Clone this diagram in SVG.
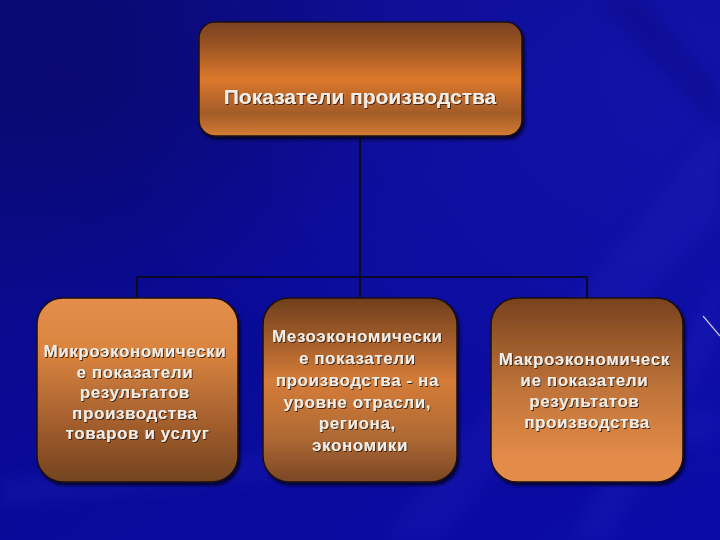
<svg xmlns="http://www.w3.org/2000/svg" width="720" height="540" viewBox="0 0 720 540">
  <defs>
    <linearGradient id="bg" x1="0" y1="0" x2="1" y2="1">
      <stop offset="0" stop-color="#0b0b7e"/>
      <stop offset="0.45" stop-color="#0a0a98"/>
      <stop offset="1" stop-color="#0b0ba8"/>
    </linearGradient>
    <radialGradient id="glow" cx="0.95" cy="0.15" r="0.8">
      <stop offset="0" stop-color="#2222c0" stop-opacity="0.35"/>
      <stop offset="1" stop-color="#2222c0" stop-opacity="0"/>
    </radialGradient>
    <radialGradient id="dark" cx="0.1" cy="0.15" r="0.45">
      <stop offset="0" stop-color="#06064a" stop-opacity="0.35"/>
      <stop offset="1" stop-color="#06064a" stop-opacity="0"/>
    </radialGradient>
    <linearGradient id="gTop" x1="0" y1="0" x2="0" y2="1">
      <stop offset="0" stop-color="#7a4220"/>
      <stop offset="0.2" stop-color="#9a5424"/>
      <stop offset="0.5" stop-color="#dc782c"/>
      <stop offset="0.8" stop-color="#a35c28"/>
      <stop offset="1" stop-color="#d47c34"/>
    </linearGradient>
    <linearGradient id="g1" x1="0" y1="0" x2="0" y2="1">
      <stop offset="0" stop-color="#e58e4c"/>
      <stop offset="0.3" stop-color="#d9843f"/>
      <stop offset="0.7" stop-color="#a05c2c"/>
      <stop offset="1" stop-color="#73441f"/>
    </linearGradient>
    <linearGradient id="g2" x1="0" y1="0" x2="0" y2="1">
      <stop offset="0" stop-color="#6e3e1c"/>
      <stop offset="0.45" stop-color="#d57c38"/>
      <stop offset="0.75" stop-color="#b06a34"/>
      <stop offset="1" stop-color="#7a4624"/>
    </linearGradient>
    <linearGradient id="g3" x1="0" y1="0" x2="0" y2="1">
      <stop offset="0" stop-color="#78421e"/>
      <stop offset="0.5" stop-color="#c0743a"/>
      <stop offset="0.85" stop-color="#e28a48"/>
      <stop offset="1" stop-color="#e48c4a"/>
    </linearGradient>
    <filter id="shadow" x="-10%" y="-10%" width="125%" height="125%">
      <feDropShadow dx="2" dy="3" stdDeviation="1.5" flood-color="#000020" flood-opacity="0.8"/>
    </filter>
    <filter id="tshadow" x="-5%" y="-20%" width="110%" height="150%">
      <feDropShadow dx="1" dy="1" stdDeviation="0.5" flood-color="#3a1a08" flood-opacity="0.9"/>
    </filter>
    <filter id="blur" x="-20%" y="-20%" width="140%" height="140%">
      <feGaussianBlur stdDeviation="8"/>
    </filter>
  </defs>
  <style>
    .box { stroke: #1a0e14; stroke-width: 1.5; filter: url(#shadow); }
    .lbl { font-family: "Liberation Sans", Arial, sans-serif; fill: #f6eee6; text-anchor: middle; font-weight: bold; filter: url(#tshadow); }
    .top { font-size: 21px; }
    .sub { font-size: 17px; letter-spacing: 0.6px; }
    .conn { stroke: #0a0a28; stroke-width: 2; fill: none; }
  </style>

  <!-- background -->
  <rect x="0" y="0" width="720" height="540" fill="url(#bg)"/>
  <rect x="0" y="0" width="720" height="540" fill="url(#glow)"/>
  <rect x="0" y="0" width="720" height="540" fill="url(#dark)"/>
  <g fill="#3434d4" opacity="0.14" filter="url(#blur)">
    <path d="M720 120 L380 540 L440 540 L720 210 Z"/>
    <path d="M720 270 L570 540 L610 540 L720 340 Z"/>
    <path d="M0 480 Q360 440 720 410 L720 440 Q360 470 0 505 Z"/>
  </g>
  <g fill="#05055a" opacity="0.2" filter="url(#blur)">
    <path d="M600 0 L720 130 L720 90 L640 0 Z"/>
  </g>
  <line x1="703" y1="316" x2="720" y2="336" stroke="#c8c0f0" stroke-width="1.2"/>

  <!-- connectors -->
  <g id="connectors" class="conn">
    <line x1="360" y1="136" x2="360" y2="298"/>
    <line x1="137" y1="277" x2="587" y2="277"/>
    <line x1="137" y1="277" x2="137" y2="298"/>
    <line x1="587" y1="277" x2="587" y2="298"/>
  </g>

  <g id="node-top">
    <rect class="box" x="199" y="22" width="323" height="114" rx="16" fill="url(#gTop)"/>
    <text class="lbl top" x="360" y="104">Показатели производства</text>
  </g>

  <g id="node-micro">
    <rect class="box" x="37" y="298" width="201" height="184" rx="26" fill="url(#g1)"/>
    <text class="lbl sub" x="137.5">
      <tspan x="137.5" y="357">Микроэкономически</tspan>
      <tspan x="137.5" y="377.5">е показатели</tspan>
      <tspan x="137.5" y="398">результатов</tspan>
      <tspan x="137.5" y="418.5">производства</tspan>
      <tspan x="137.5" y="439">товаров и услуг</tspan>
    </text>
  </g>

  <g id="node-meso">
    <rect class="box" x="263" y="298" width="194" height="184" rx="26" fill="url(#g2)"/>
    <text class="lbl sub" x="360">
      <tspan x="360" y="342">Мезоэкономически</tspan>
      <tspan x="360" y="364">е показатели</tspan>
      <tspan x="360" y="386">производства - на</tspan>
      <tspan x="360" y="408">уровне отрасли,</tspan>
      <tspan x="360" y="429">региона,</tspan>
      <tspan x="360" y="451">экономики</tspan>
    </text>
  </g>

  <g id="node-macro">
    <rect class="box" x="491" y="298" width="192" height="184" rx="26" fill="url(#g3)"/>
    <text class="lbl sub" x="587">
      <tspan x="587" y="365">Макроэкономическ</tspan>
      <tspan x="587" y="386">ие показатели</tspan>
      <tspan x="587" y="407">результатов</tspan>
      <tspan x="587" y="428">производства</tspan>
    </text>
  </g>
</svg>
